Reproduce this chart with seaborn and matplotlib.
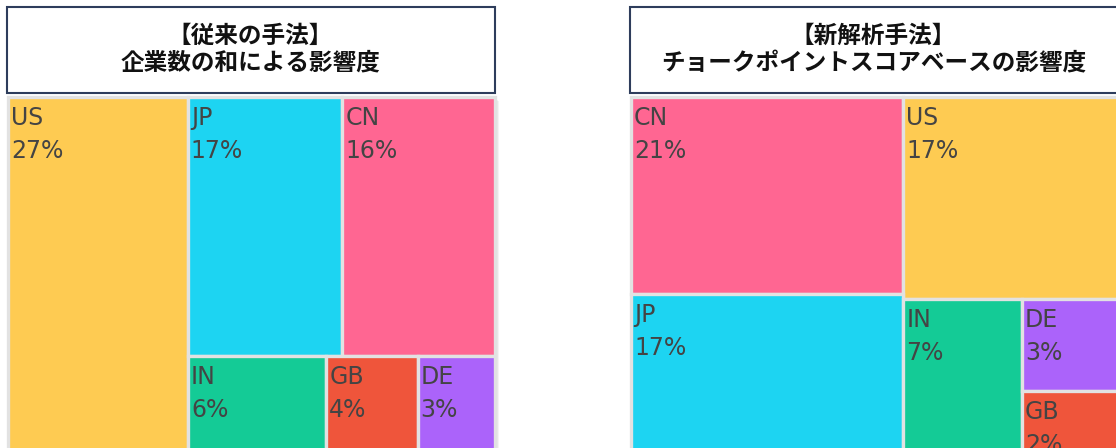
""" Treemap comparison: conventional vs choke-point based influence """

import matplotlib.pyplot as plt
from matplotlib.patches import Rectangle
import seaborn as sns

# --- data (shares in %, labels are the rounded values) ---
left_countries = ["US", "JP", "CN", "IN", "GB", "DE"]
left_share = [27.0, 16.6, 16.4, 5.9, 3.9, 3.3]

right_countries = ["CN", "US", "JP", "IN", "DE", "GB"]
right_share = [20.6, 16.6, 17.2, 7.3, 3.4, 2.5]

left_title = ["【従来の手法】", "企業数の和による影響度"]
right_title = ["【新解析手法】", "チョークポイントスコアベースの影響度"]

# tile arrangement: "h" = side by side, "v" = stacked
left_tree = ("h", ["US", ("v", [("h", ["JP", "CN"]), ("h", ["IN", "GB", "DE"])])])
right_tree = ("h", [("v", ["CN", "JP"]),
                    ("v", ["US", ("h", ["IN", ("v", ["DE", "GB"])])])])

colors = {"US": "#FECB52", "JP": "#1DD4F2", "CN": "#FF6692",
          "IN": "#14CB96", "GB": "#EF553B", "DE": "#AB63FA"}

sns.set_theme(style="white")
plt.rcParams['font.family'] = ['DejaVu Sans']


def total(node, vals):
    if isinstance(node, str):
        return vals[node]
    return sum(total(k, vals) for k in node[1])


def layout(node, x, y, w, h, vals, out):
    """slice/dice layout, sizes proportional to the shares"""
    if isinstance(node, str):
        out[node] = (x, y, w, h)
        return
    direction, kids = node
    tot = total(node, vals)
    for k in kids:
        f = total(k, vals) / tot
        if direction == "h":
            layout(k, x, y, w * f, h, vals, out)
            x += w * f
        else:
            layout(k, x, y, w, h * f, vals, out)
            y += h * f


def draw_panel(ax, x0, names, shares, tree, title):
    W, H = 487, 362
    top = 97
    # title box
    ax.add_patch(Rectangle((x0, 7), W + 1, 86, facecolor="white",
                           edgecolor="#2E3D5C", lw=1.5, zorder=3))
    cx = x0 + W / 2
    for i, line in enumerate(title):
        ax.text(cx, 36 + i * 26, line, ha="center", va="center",
                fontsize=17, fontweight="bold", color="#111111",
                family=["Noto Sans CJK JP", "DejaVu Sans"], zorder=4)
    # soft shadow
    for i in range(4):
        ax.add_patch(Rectangle((x0 + i + 2, top + i + 1), W, H,
                               facecolor="black", alpha=0.045, lw=0, zorder=1))
    vals = dict(zip(names, shares))
    rects = {}
    layout(tree, x0 + 1, top, W, H, vals, rects)
    for name in names:
        x, y, w, h = rects[name]
        ax.add_patch(Rectangle((x, y), w, h, facecolor=colors[name],
                               edgecolor="#E2E2E2", lw=2.4, zorder=2))
        ax.text(x + 3, y + 28, name, fontsize=17, color="#444444",
                va="baseline", ha="left", zorder=3)
        ax.text(x + 3, y + 61, f"{vals[name]:.0f}%", fontsize=17,
                color="#444444", va="baseline", ha="left", zorder=3)


fig = plt.figure(figsize=(11.16, 4.48), dpi=100)
ax = fig.add_axes([0, 0, 1, 1])
ax.set_xlim(0, 1116)
ax.set_ylim(448, 0)
ax.axis("off")

draw_panel(ax, 7, left_countries, left_share, left_tree, left_title)
draw_panel(ax, 630, right_countries, right_share, right_tree, right_title)

fig.savefig("out.png", dpi=100)
